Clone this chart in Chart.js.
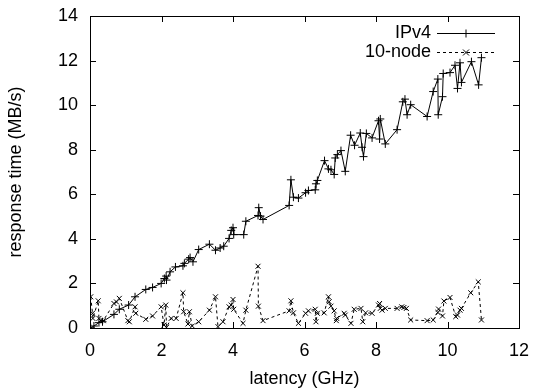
<!DOCTYPE html>
<html>
<head>
<meta charset="utf-8">
<script src="https://cdn.jsdelivr.net/npm/chart.js@4.4.0/dist/chart.umd.min.js"></script>
<style>
  body { margin: 0; background: #fff; }
  #wrap { width: 536px; height: 390px; }
</style>
</head>
<body>
<div id="wrap"><canvas id="chart" width="536" height="390"></canvas></div>
<script>
// values
const ipv4X = [0.02, 0.11, 0.25, 0.35, 0.67, 0.82, 1.08, 1.26, 1.56, 1.75, 1.99, 2.08, 2.13, 2.14, 2.24,
  2.39, 2.6, 2.64, 2.76, 2.8, 2.88, 3.04, 3.34, 3.51, 3.64, 3.74, 3.89, 3.95, 4.0, 4.02, 4.3, 4.36, 4.7,
  4.72, 4.77, 4.84, 5.57, 5.62, 5.69, 5.83, 6.03, 6.11, 6.3, 6.32, 6.36, 6.56, 6.67, 6.74, 6.83, 6.86,
  6.92, 7.02, 7.14, 7.29, 7.4, 7.56, 7.61, 7.65, 7.73, 7.89, 8.07, 8.1, 8.12, 8.26, 8.59, 8.75, 8.81,
  8.87, 8.97, 9.43, 9.6, 9.73, 9.74, 9.86, 9.88, 10.07, 10.21, 10.28, 10.35, 10.39, 10.67, 10.87, 10.95];
const ipv4Y = [0.01, 0.09, 0.24, 0.28, 0.61, 0.84, 1.03, 1.4, 1.73, 1.82, 2.0, 2.22, 2.33, 2.15, 2.52,
  2.74, 2.79, 2.9, 3.09, 3.16, 2.97, 3.52, 3.76, 3.49, 3.59, 3.67, 4.02, 4.38, 4.5, 4.19, 4.19, 4.79, 5.05,
  5.4, 5.02, 4.87, 5.5, 6.65, 5.87, 5.83, 6.07, 6.17, 6.2, 6.47, 6.62, 7.51, 7.14, 7.1, 6.89, 7.63,
  7.78, 7.96, 7.03, 8.65, 8.2, 8.75, 8.11, 7.69, 8.73, 8.53, 9.3, 8.48, 9.38, 8.26, 8.9, 10.15, 10.27,
  9.57, 10.02, 9.49, 10.61, 11.17, 9.57, 10.38, 11.42, 11.46, 11.79, 10.75, 11.9, 11.02, 11.95, 10.91, 12.13];

const nodeX = [0.02, 0.07, 0.08, 0.23, 0.25, 0.3, 0.37, 0.67, 0.74, 0.82, 1.06, 1.1, 1.26, 1.28, 1.56,
  1.75, 1.99, 2.07, 2.12, 2.14, 2.27, 2.41, 2.6, 2.62, 2.74, 2.78, 2.86, 3.04, 3.34, 3.51, 3.58, 3.72,
  3.89, 3.95, 4.0, 4.02, 4.28, 4.36, 4.7, 4.71, 4.84, 5.57, 5.62, 5.69, 5.83, 6.03, 6.11, 6.3, 6.32,
  6.36, 6.55, 6.67, 6.69, 6.74, 6.83, 6.89, 6.9, 7.11, 7.14, 7.3, 7.39, 7.58, 7.63, 7.71, 7.89, 8.07,
  8.1, 8.12, 8.17, 8.26, 8.59, 8.72, 8.78, 8.85, 8.97, 9.43, 9.6, 9.73, 9.75, 9.86, 9.9, 10.07, 10.23,
  10.28, 10.35, 10.39, 10.65, 10.86, 10.95];
const nodeY = [1.4, 0.66, 0.43, 1.22, 0.43, 0.33, 0.33, 1.1, 1.17, 1.33, 0.33, 0.28, 0.95, 0.66, 0.39,
  0.54, 0.95, 0.13, 1.03, 0.03, 0.43, 0.43, 1.58, 0.73, 0.18, 0.73, 0.09, 0.28, 0.8, 1.4, 0.06, 0.28,
  0.95, 1.03, 1.28, 0.84, 0.21, 0.8, 2.77, 0.98, 0.33, 0.77, 1.22, 0.68, 0.21, 0.66, 0.77, 0.84, 0.28,
  0.66, 0.68, 1.4, 1.18, 0.98, 0.77, 0.33, 0.43, 0.66, 0.58, 0.21, 0.84, 0.88, 0.28, 0.68, 0.66, 1.03,
  1.1, 0.88, 0.8, 0.88, 0.88, 0.95, 0.92, 0.88, 0.36, 0.33, 0.36, 0.7, 0.85, 0.54, 1.21, 1.37, 0.51,
  0.58, 0.8, 0.88, 1.58, 2.07, 0.36];

const seriesNames = ['IPv4', '10-node'];

const FONT = 'Liberation Sans, Arial, sans-serif';
const FONT_SIZE = 18;

function points(xs, ys) {
    return xs.map((x, i) => ({ x: x, y: ys[i] }));
}

// draws a gnuplot style marker (plus or x)
function marker(ctx, style, x, y, r) {
    ctx.beginPath();
    if (style === 'cross') {
        ctx.moveTo(x - r, y); ctx.lineTo(x + r, y);
        ctx.moveTo(x, y - r); ctx.lineTo(x, y + r);
    } else {
        const d = r * 0.75;
        ctx.moveTo(x - d, y - d); ctx.lineTo(x + d, y + d);
        ctx.moveTo(x - d, y + d); ctx.lineTo(x + d, y - d);
    }
    ctx.stroke();
}

// frame with inward ticks on all four sides
const framePlugin = {
    id: 'frame',
    afterDraw(chart) {
        const ctx = chart.ctx;
        const a = chart.chartArea;
        const len = 6;
        ctx.save();
        ctx.strokeStyle = '#000';
        ctx.lineWidth = 1;
        ctx.setLineDash([]);
        ctx.strokeRect(a.left + 0.5, a.top + 0.5, a.right - a.left, a.bottom - a.top);
        ctx.beginPath();
        chart.scales.x.ticks.forEach(t => {
            const px = Math.round(chart.scales.x.getPixelForValue(t.value)) + 0.5;
            ctx.moveTo(px, a.bottom); ctx.lineTo(px, a.bottom - len);
            ctx.moveTo(px, a.top); ctx.lineTo(px, a.top + len);
        });
        chart.scales.y.ticks.forEach(t => {
            const py = Math.round(chart.scales.y.getPixelForValue(t.value)) + 0.5;
            ctx.moveTo(a.left, py); ctx.lineTo(a.left + len, py);
            ctx.moveTo(a.right, py); ctx.lineTo(a.right - len, py);
        });
        ctx.stroke();
        ctx.restore();
    }
};

// key in the top right corner, like gnuplot
const keyPlugin = {
    id: 'key',
    afterDraw(chart) {
        const ctx = chart.ctx;
        const right = chart.chartArea.right;
        ctx.save();
        ctx.font = FONT_SIZE + 'px ' + FONT;
        ctx.fillStyle = '#000';
        ctx.textAlign = 'right';
        ctx.textBaseline = 'middle';
        chart.data.datasets.forEach((ds, i) => {
            const y = chart.chartArea.top + 17 + i * 19;
            ctx.fillText(ds.label, right - 88, y);
            ctx.strokeStyle = '#000';
            ctx.lineWidth = 1;
            ctx.setLineDash(ds.borderDash || []);
            ctx.beginPath();
            ctx.moveTo(right - 82, y + 0.5);
            ctx.lineTo(right - 24, y + 0.5);
            ctx.stroke();
            ctx.setLineDash([]);
            marker(ctx, ds.pointStyle, right - 53, y + 0.5, 4);
        });
        ctx.restore();
    }
};

const tickFont = { family: FONT, size: FONT_SIZE };

new Chart(document.getElementById('chart'), {
    type: 'scatter',
    data: {
        datasets: [
            {
                label: seriesNames[0],
                data: points(ipv4X, ipv4Y),
                showLine: true,
                borderColor: '#000',
                borderWidth: 1,
                pointStyle: 'cross',
                pointRadius: 4,
                pointBorderWidth: 1,
                pointBorderColor: '#000',
                tension: 0
            },
            {
                label: seriesNames[1],
                data: points(nodeX, nodeY),
                showLine: true,
                borderColor: '#000',
                borderWidth: 1,
                borderDash: [3, 3],
                pointStyle: 'crossRot',
                pointRadius: 3.5,
                pointBorderWidth: 1,
                pointBorderColor: '#000',
                tension: 0
            }
        ]
    },
    options: {
        responsive: false,
        animation: false,
        layout: { padding: { top: 16, right: 17, left: 0, bottom: 0 } },
        plugins: {
            legend: { display: false },
            tooltip: { enabled: false }
        },
        scales: {
            x: {
                type: 'linear',
                min: 0,
                max: 12,
                afterFit: s => { s.height = 62; s.paddingLeft = 0; s.paddingRight = 0; },
                grid: { display: false, drawTicks: false },
                border: { display: false },
                ticks: { stepSize: 2, color: '#000', padding: 12, font: tickFont },
                title: {
                    display: true,
                    text: 'latency (GHz)',
                    color: '#000',
                    padding: { top: 4, bottom: 0 },
                    font: tickFont
                }
            },
            y: {
                type: 'linear',
                min: 0,
                max: 14,
                afterFit: s => { s.width = 90; s.paddingTop = 0; s.paddingBottom = 0; },
                grid: { display: false, drawTicks: false },
                border: { display: false },
                ticks: { stepSize: 2, color: '#000', padding: 12, font: tickFont },
                title: {
                    display: true,
                    text: 'response time (MB/s)',
                    color: '#000',
                    padding: { top: 5, bottom: 0 },
                    font: tickFont
                }
            }
        }
    },
    plugins: [framePlugin, keyPlugin]
});
</script>
</body>
</html>
